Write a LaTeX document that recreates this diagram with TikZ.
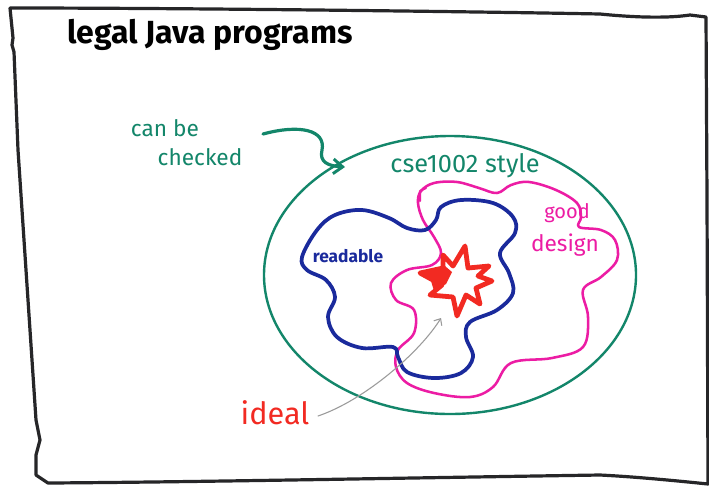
\documentclass[tikz,border=0pt]{standalone}
\usepackage{fontspec}
\setmainfont{Fira Sans}
\usetikzlibrary{arrows.meta}
\definecolor{frameblack}{HTML}{262628}
\definecolor{mgreen}{HTML}{13866A}
\definecolor{mblue}{HTML}{1A2A9C}
\definecolor{mpink}{HTML}{EC1CA4}
\definecolor{mred}{HTML}{F22A22}
\definecolor{mgray}{HTML}{9A9A9A}
\tikzset{
  framestroke/.style={draw=frameblack,line width=2.4pt,line join=round,line cap=round},
  setline/.style={line width=#1,line join=round,line cap=round},
  lbl/.style={inner sep=0pt,anchor=center},
}
\begin{document}
\begin{tikzpicture}[x=0.75pt,y=-0.75pt]
\useasboundingbox (0,0) rectangle (709,487);
\fill[white] (0,0) rectangle (709,487);
% frame
\draw[framestroke] (10,8) .. controls (200,8) and (500,12) .. (600,14)
  .. controls (640,18) and (670,18) .. (690,15) -- (706,17) -- (707,200) -- (708,484)
  .. controls (650,478) and (620,476) .. (600,475) .. controls (400,478) and (200,482) .. (48,483)
  -- (42,479) -- (36,475) -- (36,455) -- (40,440) -- (36,420) -- (28,300) -- (18,150) -- (14,52) -- (12,45) -- (13,38) -- (10,8);
% title
\node[lbl,font=\bfseries\fontsize{24}{26}\selectfont,text=black] (title) at (210,35) {legal Java programs};
% green ellipse
\draw[mgreen,setline=1.8pt] (450,275) ellipse [x radius=186, y radius=139];
\coordinate (ellc) at (450,275);
% pink blob
\draw[mpink,setline=1.9pt] plot[smooth cycle,tension=0.6] coordinates {
 (434,183) (457,182) (479,188) (497,193) (511,185) (529,182) (556,190) (577,203)
 (581,217) (579,227) (601,230) (615,240) (617,260) (601,277) (583,290) (588,317)
 (583,347) (552,358) (511,363) (493,387) (470,397) (434,393) (407,383) (396,367)
 (398,350) (414,333) (414,310) (396,300) (391,283) (407,270) (432,265) (441,253)
 (434,237) (423,220) (418,203) (421,191)};
\draw[mpink,setline=1.6pt] (420,201) -- (420,191) -- (426,188);
% blue blob
\draw[mblue,setline=2.8pt] plot[smooth cycle,tension=0.6] coordinates {
 (302,257) (317,230) (335,215) (362,210) (389,218) (407,228) (425,230) (436,220)
 (441,207) (461,200) (493,203) (513,217) (515,233) (500,253) (509,273) (513,293)
 (497,310) (470,322) (466,337) (473,357) (461,373) (434,378) (407,372) (398,357)
 (393,347) (362,348) (337,337) (328,317) (335,297) (326,280) (307,270)};
% red star
\draw[mred,setline=3.6pt,fill=white] (465,246) -- (468,268) -- (489,266) -- (478,276) -- (492,281)
  -- (476,288) -- (480,304) -- (466,295) -- (457,316) -- (453,297) -- (430,295) -- (442,285)
  -- (420,273) -- (443,268) -- (443,255) -- (453,266) -- cycle;
\fill[mred] (422,272) -- (445,266) -- (452,272) -- (446,284) -- (434,291) -- (431,281) -- cycle;
\coordinate (star) at (441,318);
% labels
\node[lbl,font=\fontsize{17}{19}\selectfont,text=mgreen] (canbe) at (165,128) {can be};
\node[lbl,font=\fontsize{17}{19}\selectfont,text=mgreen] (checked) at (200,157) {checked};
\node[lbl,font=\fontsize{19}{21}\selectfont,text=mgreen] (cse) at (465,166) {cse1002 style};
\node[lbl,font=\bfseries\fontsize{13}{15}\selectfont,text=mblue] (readable) at (348,256) {readable};
\node[lbl,font=\fontsize{15}{17}\selectfont,text=mpink] (good) at (567,213) {good};
\node[lbl,font=\fontsize{17}{19}\selectfont,text=mpink] (design) at (565,245) {design};
\node[lbl,font=\fontsize{23}{25}\selectfont,text=mred] (ideal) at (275,413) {ideal};
% green arrow
\coordinate (garrs) at (263,134);
\coordinate (garre) at (345,167);
\draw[mgreen,setline=2.4pt,-{Straight Barb[length=7pt,width=11pt,line width=2.2pt]}]
  (garrs) .. controls (300,124) and (326,130) .. (322,150)
  .. controls (319,162) and (328,166) .. (garre);
% gray arrow
\coordinate (iarrs) at (318,416);
\draw[mgray,setline=0.8pt,-{Straight Barb[length=4pt,width=7pt]}]
  (iarrs) .. controls (365,400) and (420,352) .. (star);
\end{tikzpicture}
\end{document}
